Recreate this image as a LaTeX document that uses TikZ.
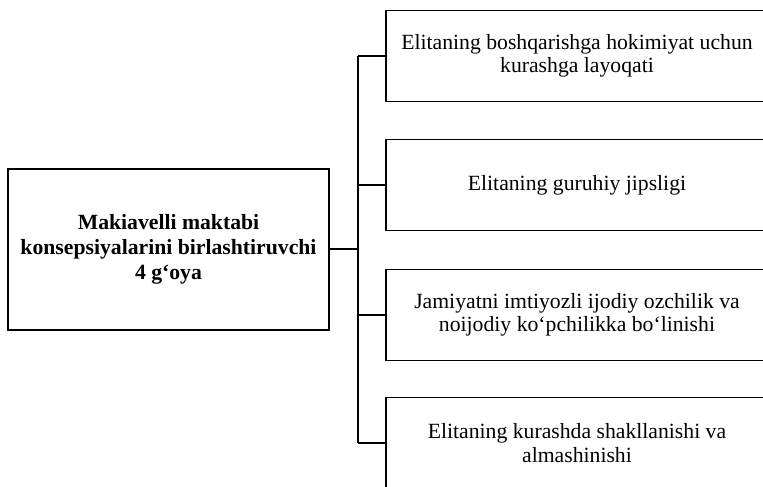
\documentclass[tikz,border=0pt]{standalone}
\usepackage{fontspec}
\setmainfont{Liberation Serif}
\usepackage{tikz}

\begin{document}
\begin{tikzpicture}[
  x=1pt, y=-1pt,
  main/.style={rectangle, draw=black, line width=1.7pt, align=center, minimum width=321pt, minimum height=161pt, inner sep=0pt, font=\bfseries\fontsize{21.7}{25}\selectfont},
  idea/.style={rectangle, draw=black, line width=1.7pt, align=center, minimum width=382pt, minimum height=91pt, inner sep=0pt, font=\fontsize{21.7}{23.5}\selectfont},
  link/.style={draw=black, line width=1.7pt}
]
\useasboundingbox (0,0) rectangle (763,487);
\clip (0,0) rectangle (763,487);
\node[main] (goya) at (168.5,249.5) {Makiavelli maktabi\\konsepsiyalarini birlashtiruvchi\\4 g‘oya};
\node[idea] (kurash) at (577,56) {Elitaning boshqarishga hokimiyat uchun\\kurashga layoqati};
\node[idea] (jips) at (577,185) {Elitaning guruhiy jipsligi};
\node[idea] (bolin) at (577,315) {Jamiyatni imtiyozli ijodiy ozchilik va\\noijodiy ko‘pchilikka bo‘linishi};
\node[idea] (almash) at (577,443) {Elitaning kurashda shakllanishi va\\almashinishi};
\coordinate (hub) at (358,249);
\draw[link] (goya.east |- hub) -- (hub);
\draw[link] (hub |- kurash) -- (hub |- almash);
\draw[link] (hub |- kurash) -- (kurash.west);
\draw[link] (hub |- jips) -- (jips.west);
\draw[link] (hub |- bolin) -- (bolin.west);
\draw[link] (hub |- almash) -- (almash.west);
\end{tikzpicture}
\end{document}
